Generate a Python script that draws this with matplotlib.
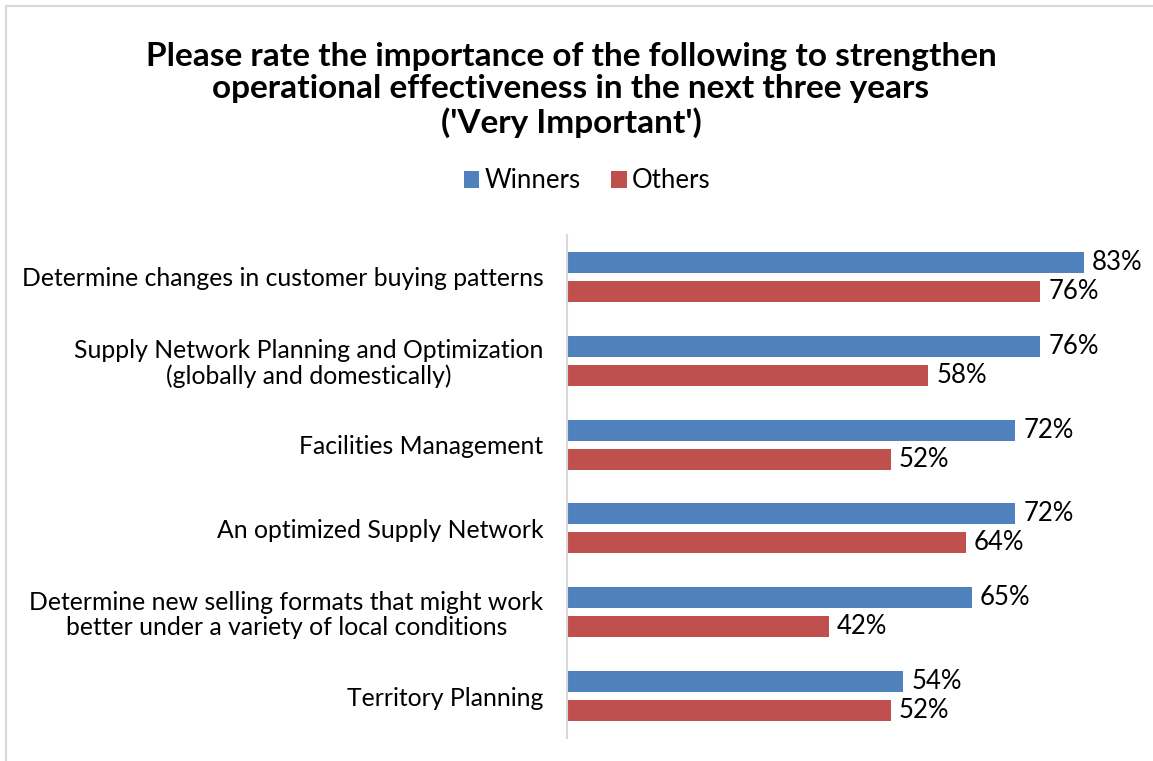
import matplotlib

matplotlib.use("Agg")
import matplotlib.pyplot as plt
from matplotlib.patches import Rectangle

categories = [
    "Determine changes in customer buying patterns",
    "Supply Network Planning and Optimization\n(globally and domestically)",
    "Facilities Management",
    "An optimized Supply Network",
    "Determine new selling formats that might work\nbetter under a variety of local conditions",
    "Territory Planning",
]
winners = [83, 76, 72, 72, 65, 54]
others = [76, 58, 52, 64, 42, 52]

BLUE = "#4F81BD"
RED = "#C0504D"
FONT = ["Lato", "DejaVu Sans"]

plt.rcParams["font.family"] = FONT

W, H = 1153, 761
fig = plt.figure(figsize=(W / 100, H / 100), dpi=100)

# outer chart frame (clipped on the right/bottom)
fig.patches.append(Rectangle((6 / W, -0.1), 1.2, 1 - 6 / H + 0.1, transform=fig.transFigure,
                             fill=False, edgecolor="#D9D9D9", linewidth=1.5))

ax_left, ax_right = 567, 1135
ax_top, ax_bottom = 235, 738
ax = fig.add_axes([ax_left / W, 1 - ax_bottom / H, (ax_right - ax_left) / W,
                   (ax_bottom - ax_top) / H])

px_per_pct = (1085 - 568) / 83
ax.set_xlim(0, (ax_right - ax_left) / px_per_pct)
ax.set_ylim(len(categories) - 0.5, -0.5)

pos = list(range(len(categories)))
off = 0.173
h = 0.25
ax.barh([p - off for p in pos], winners, height=h, color=BLUE, label="Winners")
ax.barh([p + off for p in pos], others, height=h, color=RED, label="Others")

for p, v in zip(pos, winners):
    ax.text(v + 1.3, p - off, f"{v}%", va="center", ha="left", fontsize=18.5)
for p, v in zip(pos, others):
    ax.text(v + 1.3, p + off, f"{v}%", va="center", ha="left", fontsize=18.5)

ax.set_yticks(pos)
ax.set_yticklabels(categories, fontsize=17.8, ha="right", linespacing=1.1)
ax.tick_params(axis="y", length=0, pad=17)
ax.set_xticks([])
for s in ["top", "right", "bottom"]:
    ax.spines[s].set_visible(False)
ax.spines["left"].set_color("#D9D9D9")
ax.spines["left"].set_linewidth(1.5)
for lbl in ax.get_yticklabels():
    lbl.set_multialignment("center")

fig.text(571 / W, 1 - 90 / H,
         "Please rate the importance of the following to strengthen\n"
         "operational effectiveness in the next three years\n"
         "('Very Important')",
         ha="center", va="center", fontsize=24, fontweight="bold", linespacing=1.16)

fig.legend(loc="center", bbox_to_anchor=(587 / W, 1 - 181 / H), ncol=2, frameon=False,
           fontsize=18.5, handlelength=0.6, handleheight=0.6, handletextpad=0.2,
           columnspacing=1.2)

fig.savefig("out.png", dpi=100)
